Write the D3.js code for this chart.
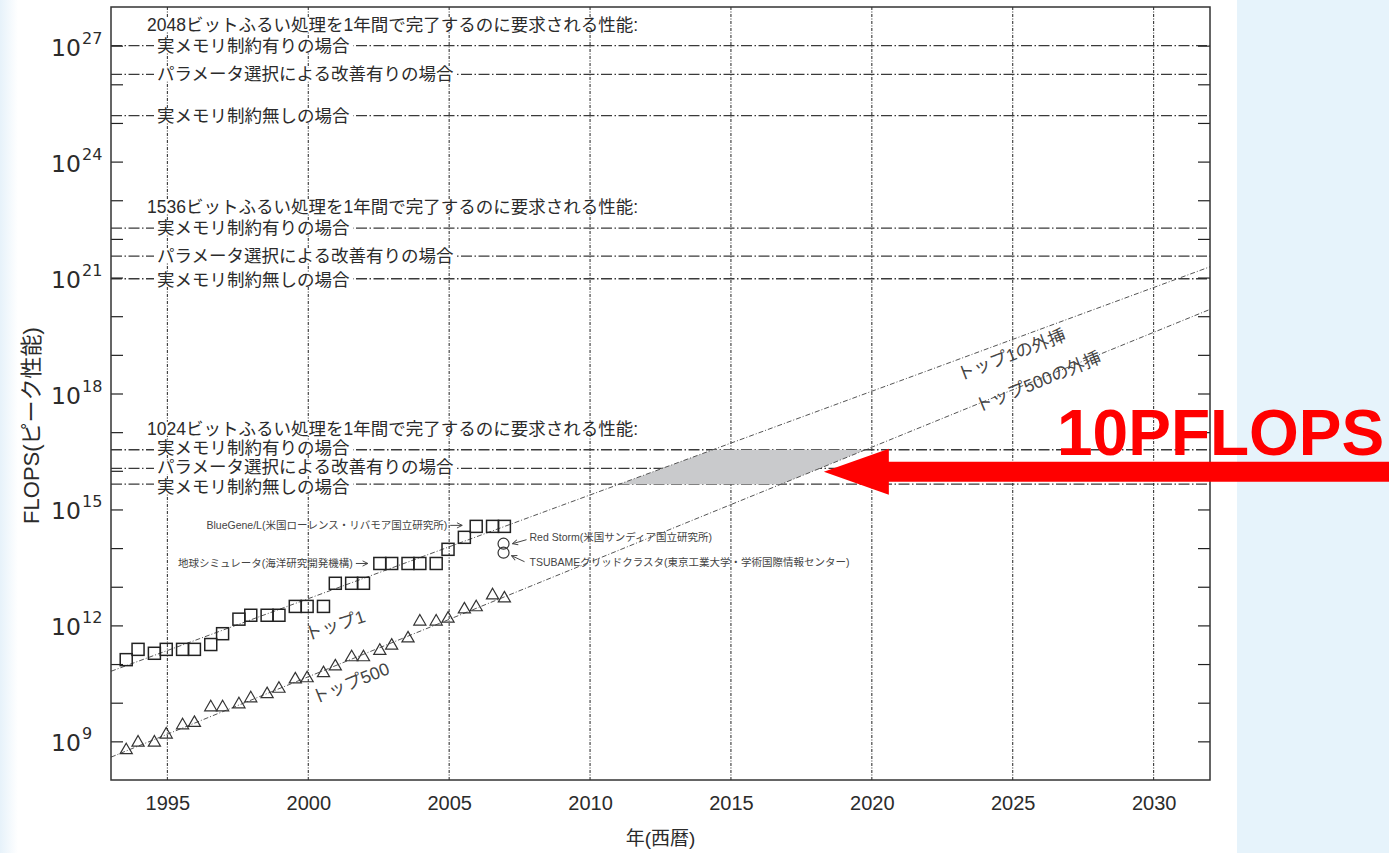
<!DOCTYPE html>
<html>
<head>
<meta charset="utf-8">
<script src="https://cdn.jsdelivr.net/npm/d3@7"></script>
<style>
html, body { margin: 0; padding: 0; background: #fff; }
svg { display: block; }
</style>
</head>
<body>
<svg id="chart" width="1389" height="853"></svg>
<script>
// TOP500 list dates (June and November lists, as decimal years)
const listDates = [1993.54, 1993.96, 1994.54, 1994.96, 1995.54, 1995.96, 1996.54, 1996.96,
  1997.54, 1997.96, 1998.54, 1998.96, 1999.54, 1999.96, 2000.54, 2000.96, 2001.54, 2001.96,
  2002.54, 2002.96, 2003.54, 2003.96, 2004.54, 2004.96, 2005.54, 2005.96, 2006.54, 2006.96];

// Peak performance (FLOPS) of the #1 system on each list
const top1Peak = [1.3e11, 2.4e11, 1.9e11, 2.4e11, 2.4e11, 2.4e11, 3.2e11, 6.1e11,
  1.45e12, 1.83e12, 1.83e12, 1.83e12, 3.1e12, 3.1e12, 3.1e12, 1.23e13, 1.23e13, 1.23e13,
  4.0e13, 4.0e13, 4.0e13, 4.0e13, 4.0e13, 9.3e13, 1.9e14, 3.65e14, 3.65e14, 3.65e14];

// Peak performance (FLOPS) of the #500 system on each list
const top500Peak = [5.9e8, 9.3e8, 9.3e8, 1.5e9, 2.6e9, 3.0e9, 7.6e9, 7.6e9,
  9.1e9, 1.3e10, 1.66e10, 2.3e10, 4.0e10, 4.3e10, 5.8e10, 8.7e10, 1.5e11, 1.5e11,
  2.2e11, 3.0e11, 4.6e11, 1.26e12, 1.26e12, 1.5e12, 2.6e12, 2.95e12, 6.0e12, 5.0e12];

// Other notable systems
const otherNames = ["Red Storm(米国サンディア国立研究所)", "TSUBAMEグリッドクラスタ(東京工業大学・学術国際情報センター)"];
const otherDates = [2006.93, 2006.93];
const otherPeak = [1.3e14, 7.6e13];

// Extrapolated trend lines (end points)
const trendYears = [1993, 2032];
const top1Trend = [6.5e10, 1.9e21];
const top500Trend = [3.9e8, 1.5e20];

// Performance required to finish the sieving step within one year
const keySizes = ["2048", "1536", "1024"];
const caseLabels = ["実メモリ制約有りの場合", "パラメータ選択による改善有りの場合", "実メモリ制約無しの場合"];
const required2048 = [1.0e27, 1.8e26, 1.55e25];
const required1536 = [1.9e22, 3.6e21, 9.3e20];
const required1024 = [3.5e16, 1.15e16, 4.5e15];
const requiredByKey = [required2048, required1536, required1024];

// Highlighted target
const targetLabel = "10PFLOPS";
const targetValue = 1e16;

// Axis ticks
const yearTicks = [1995, 2000, 2005, 2010, 2015, 2020, 2025, 2030];
const yLabelExps = [9, 12, 15, 18, 21, 24, 27];

const W = 1389, H = 853;
const plot = { left: 111, right: 1210, top: 7, bottom: 780 };
const jp = "'Liberation Sans', 'Noto Sans CJK JP', sans-serif";
const ink = "#2b2b2b";

const svg = d3.select("#chart");

const x = d3.scaleLinear().domain([1993, 2032]).range([plot.left, plot.right]);
const y = d3.scaleLog().domain([1e8, 1e28]).range([plot.bottom, plot.top]);

// page background: white sheet with a pale blue side panel
const defs = svg.append("defs");
const fade = defs.append("linearGradient").attr("id", "edgeFade");
fade.append("stop").attr("offset", "0%").attr("stop-color", "#dcecf8").attr("stop-opacity", 0.7);
fade.append("stop").attr("offset", "100%").attr("stop-color", "#dcecf8").attr("stop-opacity", 0);
svg.append("rect").attr("width", W).attr("height", H).attr("fill", "#fff");
svg.append("rect").attr("x", 0).attr("y", 0).attr("width", 18).attr("height", H).attr("fill", "url(#edgeFade)");
svg.append("rect").attr("x", 1237).attr("y", 0).attr("width", W - 1237).attr("height", H).attr("fill", "#e6f3fb");

defs.append("marker").attr("id", "smallArrow")
  .attr("viewBox", "0 0 8 8").attr("refX", 7).attr("refY", 4)
  .attr("markerWidth", 7).attr("markerHeight", 7).attr("orient", "auto")
  .append("path").attr("d", "M1,1 L7,4 L1,7").attr("fill", "none").attr("stroke", "#444").attr("stroke-width", 1.1);

// vertical grid
svg.append("g").selectAll("line").data(yearTicks).join("line")
  .attr("x1", d => x(d)).attr("x2", d => x(d))
  .attr("y1", plot.top).attr("y2", plot.bottom)
  .attr("stroke", "#222").attr("stroke-width", 1)
  .attr("stroke-dasharray", "3,1.5,1,1.5");

// required-performance levels
const levels = [];
requiredByKey.forEach((vals, gi) => vals.forEach((v, ci) => levels.push({ gi, ci, v })));
svg.append("g").selectAll("line").data(levels).join("line")
  .attr("x1", plot.left).attr("x2", plot.right)
  .attr("y1", d => y(d.v)).attr("y2", d => y(d.v))
  .attr("stroke", "#3a3a3a").attr("stroke-width", 1.3)
  .attr("stroke-dasharray", "11,2.5,1.5,2.5");

// region between the 1024-bit limits reachable by the extrapolated trends
const t1 = d3.scaleLinear().domain(top1Trend.map(Math.log10)).range(trendYears);
const t500 = d3.scaleLinear().domain(top500Trend.map(Math.log10)).range(trendYears);
const hi = required1024[0], lo = required1024[2];
const region = [
  [x(t1(Math.log10(hi))), y(hi)],
  [x(t500(Math.log10(hi))), y(hi)],
  [x(t500(Math.log10(lo))), y(lo)],
  [x(t1(Math.log10(lo))), y(lo)]
];
svg.append("polygon").attr("points", region.map(p => p.join(",")).join(" "))
  .attr("fill", "#c9cacc");

// trend lines
const trendLine = d3.line().x(d => x(d[0])).y(d => y(d[1]));
[top1Trend, top500Trend].forEach(tr => {
  svg.append("path").datum(trendYears.map((yr, i) => [yr, tr[i]]))
    .attr("d", trendLine).attr("fill", "none")
    .attr("stroke", "#555").attr("stroke-width", 1)
    .attr("stroke-dasharray", "5,2,1,2");
});

// labels with white backing
function backedText(g, tx, ty, str, size) {
  const t = g.append("text").attr("x", tx).attr("y", ty)
    .attr("dominant-baseline", "central")
    .attr("font-family", jp).attr("font-size", size).attr("fill", ink).text(str);
  const b = t.node().getBBox();
  g.insert("rect", "text").attr("x", b.x - 3).attr("y", b.y + 3).attr("width", b.width + 6).attr("height", b.height - 6).attr("fill", "#fff");
  return t;
}
// small vertical nudges keep closely spaced labels apart
const caseNudge = [[0, 0, 0], [0, 0, 1], [-2, -1, 3]];
const labelLayer = svg.append("g");
requiredByKey.forEach((vals, gi) => {
  const g = labelLayer.append("g");
  backedText(g, 147, y(vals[0]) - 21, keySizes[gi] + "ビットふるい処理を1年間で完了するのに要求される性能:", 17.5);
  vals.forEach((v, ci) => {
    const gg = labelLayer.append("g");
    backedText(gg, 157, y(v) + caseNudge[gi][ci], caseLabels[ci], 17.5);
  });
});

// data marks
const sq = 12;
svg.append("g").selectAll("rect").data(listDates.map((d, i) => [d, top1Peak[i]])).join("rect")
  .attr("x", d => x(d[0]) - sq / 2).attr("y", d => y(d[1]) - sq / 2)
  .attr("width", sq).attr("height", sq)
  .attr("fill", "none").attr("stroke", "#222").attr("stroke-width", 1.5);

const tri = d3.symbol().type(d3.symbolTriangle).size(64);
svg.append("g").selectAll("path").data(listDates.map((d, i) => [d, top500Peak[i]])).join("path")
  .attr("transform", d => `translate(${x(d[0])},${y(d[1])})`)
  .attr("d", tri).attr("fill", "none").attr("stroke", "#333").attr("stroke-width", 1.2);

svg.append("g").selectAll("circle").data(otherDates.map((d, i) => [d, otherPeak[i]])).join("circle")
  .attr("cx", d => x(d[0])).attr("cy", d => y(d[1])).attr("r", 5.5)
  .attr("fill", "none").attr("stroke", "#333").attr("stroke-width", 1.2);

// annotations
const ann = svg.append("g").attr("font-family", jp).attr("font-size", 10.5).attr("fill", "#444");
function pointer(x1, y1, x2, y2) {
  ann.append("line").attr("x1", x1).attr("y1", y1).attr("x2", x2).attr("y2", y2)
    .attr("stroke", "#444").attr("stroke-width", 1).attr("marker-end", "url(#smallArrow)");
}
{
  const bx = x(listDates[25]) - sq / 2 - 8, by = y(top1Peak[25]) - 1;
  pointer(bx - 12, by, bx, by);
  ann.append("text").attr("x", bx - 15).attr("y", by).attr("text-anchor", "end")
    .attr("dominant-baseline", "central").text("BlueGene/L(米国ローレンス・リバモア国立研究所)");
  const ex = x(listDates[18]) - sq / 2 - 6, ey = y(top1Peak[18]);
  pointer(ex - 12, ey, ex, ey);
  ann.append("text").attr("x", ex - 15).attr("y", ey).attr("text-anchor", "end")
    .attr("dominant-baseline", "central").text("地球シミュレータ(海洋研究開発機構)");
  const rx = x(otherDates[0]), ry = y(otherPeak[0]);
  pointer(rx + 23, ry - 4, rx + 9, ry);
  ann.append("text").attr("x", rx + 26).attr("y", ry - 7).attr("dominant-baseline", "central").text(otherNames[0]);
  const tx = x(otherDates[1]), ty = y(otherPeak[1]);
  pointer(tx + 21, ty + 9, tx + 8, ty + 3);
  ann.append("text").attr("x", tx + 26).attr("y", ty + 9).attr("dominant-baseline", "central").text(otherNames[1]);
}

// series labels
const seriesLabels = [
  { text: "トップ1", yr: 2000.95, v: 1e12, rot: -18 },
  { text: "トップ500", yr: 2001.5, v: 3.2e10, rot: -22 },
  { text: "トップ1の外挿", yr: 2024.95, v: 1.0e19, rot: -21 },
  { text: "トップ500の外挿", yr: 2025.9, v: 2.0e18, rot: -22 }
];
svg.append("g").selectAll("text").data(seriesLabels).join("text")
  .attr("transform", d => `translate(${x(d.yr)},${y(d.v)}) rotate(${d.rot})`)
  .attr("text-anchor", "middle").attr("dominant-baseline", "central")
  .attr("font-family", jp).attr("font-size", 17.5).attr("fill", "#444")
  .text(d => d.text);

// frame and ticks
const decades = d3.range(9, 28).map(e => Math.pow(10, e));
const leftAx = svg.append("g").attr("transform", `translate(${plot.left},0)`)
  .call(d3.axisLeft(y).tickValues(decades).tickSize(-12).tickFormat(() => ""));
const rightAx = svg.append("g").attr("transform", `translate(${plot.right},0)`)
  .call(d3.axisRight(y).tickValues(decades).tickSize(-12).tickFormat(() => ""));
[leftAx, rightAx].forEach(a => {
  a.select(".domain").remove();
  a.selectAll("line").attr("stroke", "#222").attr("stroke-width", 1.2);
});
svg.append("rect").attr("x", plot.left).attr("y", plot.top)
  .attr("width", plot.right - plot.left).attr("height", plot.bottom - plot.top)
  .attr("fill", "none").attr("stroke", "#333").attr("stroke-width", 1.5);

// y tick labels as 10 with superscript exponents
const yl = svg.append("g").attr("fill", ink).attr("font-family", "'DejaVu Sans', sans-serif");
yLabelExps.forEach(e => {
  const yy = y(Math.pow(10, e));
  yl.append("text").attr("x", 81).attr("y", yy + 10).attr("text-anchor", "end")
    .attr("font-size", 23.5).text("10");
  yl.append("text").attr("x", 82).attr("y", yy - 2).attr("font-size", 16).text(String(e));
});

// x tick labels
const xAx = svg.append("g").attr("transform", `translate(0,${plot.bottom})`)
  .call(d3.axisBottom(x).tickValues(yearTicks).tickSize(0).tickPadding(16).tickFormat(d3.format("d")));
xAx.select(".domain").remove();
xAx.selectAll("text").attr("font-family", "'Liberation Sans', sans-serif").attr("font-size", 20).attr("fill", ink);

// axis titles
svg.append("text").attr("x", x(2012.5)).attr("y", 845).attr("text-anchor", "middle")
  .attr("font-family", jp).attr("font-size", 19).attr("fill", ink).text("年(西暦)");
svg.append("text").attr("transform", `translate(39,${(plot.top + plot.bottom) / 2 + 32}) rotate(-90)`)
  .attr("text-anchor", "middle").attr("font-family", jp).attr("font-size", 22).attr("fill", ink)
  .text("FLOPS(ピーク性能)");

// target arrow
const ty0 = y(targetValue);
const tipX = x(t500(Math.log10(targetValue))) + 10;
const headLen = 65, headHalf = 23, shaftHalf = 10;
svg.append("polygon").attr("points", [
  [tipX, ty0 + 1], [tipX + headLen, ty0 + 1 - headHalf], [tipX + headLen, ty0 + 1 - shaftHalf],
  [W, ty0 + 1 - shaftHalf], [W, ty0 + 1 + shaftHalf], [tipX + headLen, ty0 + 1 + shaftHalf],
  [tipX + headLen, ty0 + 1 + headHalf]
].map(p => p.join(",")).join(" ")).attr("fill", "#ff0000");
svg.append("text").attr("x", 1057).attr("y", ty0 - 16)
  .attr("font-family", "'Liberation Sans', Arial, sans-serif").attr("font-weight", "bold")
  .attr("font-size", 64).attr("fill", "#ff0000").text(targetLabel);
</script>
</body>
</html>
